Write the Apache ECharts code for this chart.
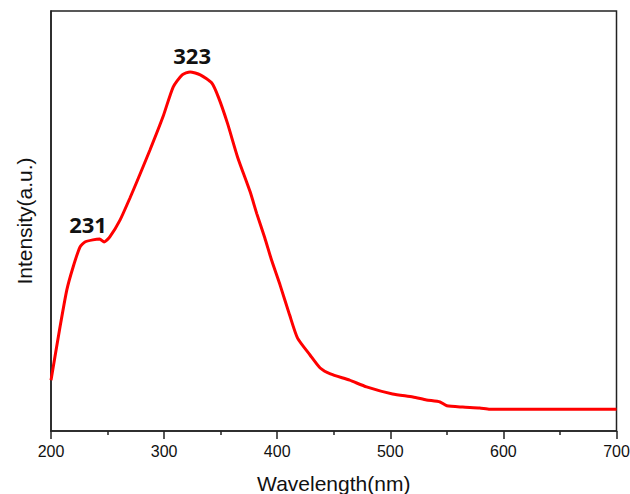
<!DOCTYPE html>
<html>
<head>
<meta charset="utf-8">
<script src="https://cdn.jsdelivr.net/npm/echarts@6/dist/echarts.min.js"></script>
<style>
  html, body { margin: 0; padding: 0; background: #fff; }
  #chart { width: 630px; height: 494px; }
</style>
</head>
<body>
<div id="chart"></div>
<script>
// wavelength (nm)
const wavelength = [200, 208, 214, 219.5, 225.6, 230, 237, 243, 247, 252, 261, 270, 276, 287.5, 299, 308, 316, 323, 332, 342, 348, 356, 365, 376, 382, 389, 395, 402.5, 411, 418, 429, 438, 447, 464, 479, 502, 520, 532, 544, 550, 564, 579, 588, 620, 660, 700];
// intensity (a.u.)
const intensity = [12.1, 24.8, 33.6, 39.0, 43.8, 45.0, 45.5, 45.7, 45.0, 46.2, 50.2, 55.6, 59.4, 66.9, 74.8, 81.9, 84.8, 85.5, 84.8, 82.9, 79.5, 73.3, 65.2, 57.0, 51.7, 46.0, 40.7, 34.8, 27.6, 22.1, 18.1, 15.0, 13.6, 12.1, 10.5, 8.8, 8.1, 7.4, 6.9, 6.0, 5.7, 5.5, 5.2, 5.2, 5.2, 5.2];
// peak labels
const peakX = [323, 231];
const peakY = [85.5, 45.2];
const peakText = ['323', '231'];

const chart = echarts.init(document.getElementById('chart'), null, { renderer: 'svg' });

const axisColor = '#222';

const option = {
    backgroundColor: '#fff',
    animation: false,
    grid: {
        left: 51,
        right: 13.5,
        top: 11,
        bottom: 63,
        outerBoundsMode: 'none',
        containLabel: false,
        show: true,
        borderColor: axisColor,
        borderWidth: 1.5
    },
    xAxis: {
        type: 'value',
        min: 200,
        max: 700,
        interval: 100,
        name: 'Wavelength(nm)',
        nameLocation: 'middle',
        nameGap: 42,
        nameTextStyle: { fontFamily: 'Liberation Sans', fontSize: 21, color: '#111' },
        axisLine: { lineStyle: { color: axisColor, width: 1.5 } },
        axisTick: { show: true, inside: false, length: 8, lineStyle: { color: axisColor, width: 1.5 } },
        minorTick: { show: true, splitNumber: 2, length: 4, lineStyle: { color: axisColor, width: 1.5 } },
        axisLabel: { fontFamily: 'Liberation Sans', fontSize: 16, color: '#111', margin: 12 },
        splitLine: { show: false }
    },
    yAxis: {
        type: 'value',
        min: 0,
        max: 100,
        name: 'Intensity(a.u.)',
        nameLocation: 'middle',
        nameGap: 16,
        nameTextStyle: { fontFamily: 'Liberation Sans', fontSize: 21, color: '#111' },
        axisLine: { show: true, lineStyle: { color: axisColor, width: 1.5 } },
        axisTick: { show: false },
        axisLabel: { show: false },
        splitLine: { show: false }
    },
    series: [{
        type: 'line',
        data: wavelength.map(function (w, i) { return [w, intensity[i]]; }),
        smooth: 0.2,
        showSymbol: false,
        lineStyle: { color: '#ff0000', width: 3 },
        markPoint: {
            symbol: 'circle',
            symbolSize: 0,
            silent: true,
            label: {
                show: true,
                position: 'inside',
                offset: [2, -17],
                fontFamily: 'Open Sans',
                fontWeight: 'bold',
                fontSize: 22,
                color: '#111',
                formatter: function (p) { return p.name; }
            },
            data: peakX.map(function (x, i) {
                return { name: peakText[i], coord: [x, peakY[i]] };
            })
        }
    }]
};

chart.setOption(option);
</script>
</body>
</html>
